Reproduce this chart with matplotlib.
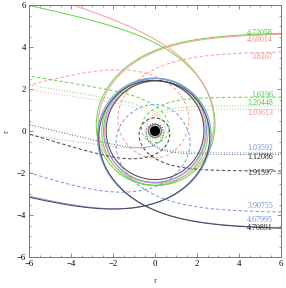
import math
import numpy as np
import matplotlib
matplotlib.use("Agg")
import matplotlib.pyplot as plt
from matplotlib.patches import Circle

# rays coming in from the right above the centre; impact parameter = label
top_b = [4.72058, 4.68014, 3.8107, 1.6196, 1.20448, 1.03613]
top_family = ["green", "pink", "pink", "green", "green", "pink"]
top_style = ["-", "-", "--", "--", ":", ":"]
top_label_y = [4.67, 4.33, 3.52, 1.71, 1.33, 0.86]

# rays coming in from the right below the centre
bot_b = [1.03592, 1.12086, 1.91597, 3.90755, 4.67995, 4.70891]
bot_family = ["blue", "black", "black", "blue", "blue", "black"]
bot_style = [":", ":", "--", "--", "-", "-"]
bot_label_y = [-0.81, -1.24, -2.00, -3.57, -4.24, -4.62]

# one background per family: critical impact parameter, charge term, core value
fam_names = ["green", "pink", "blue", "black"]
fam_bcrit = [4.720476, 4.679756, 4.679822, 4.708268]
fam_q = [0.80, 0.98, 0.90, 1.05]
fam_core = [0.115, 0.115, 0.108, 0.106]

line_col = {"green": "#6ad94e", "pink": "#ff9e9e", "blue": "#7f9be0", "black": "#4a4a55"}
text_col = {"green": "#3fcf2f", "pink": "#f08a8a", "blue": "#6f8fe8", "black": "#222222"}

UJ, WJ = 0.78, 0.03


def pot(u, q, k0):
    s = 1.0 / (1.0 + math.exp(min((u - UJ) / WJ, 700)))
    h = 1.0 - 2.0 * u + q * u * u
    return u * u * (s * h + (1.0 - s) * k0)


def dpot(u, q, k0):
    s = 1.0 / (1.0 + math.exp(min((u - UJ) / WJ, 700)))
    ds = -s * (1.0 - s) / WJ
    h = 1.0 - 2.0 * u + q * u * u
    dh = -2.0 + 2.0 * q * u
    g = s * h + (1.0 - s) * k0
    dg = ds * (h - k0) + s * dh
    return 2.0 * u * g + u * u * dg


def critical(q, k0):
    lo, hi = 0.3, 0.6
    for _ in range(80):
        mid = 0.5 * (lo + hi)
        if dpot(mid, q, k0) > 0:
            lo = mid
        else:
            hi = mid
    return 1.0 / math.sqrt(pot(lo, q, k0))


def trace(b, q, k0, lam):
    # integrate u(phi) for a ray arriving from +x with impact parameter b
    bb = b / lam
    u = lam / 40.0
    u0 = u
    v = math.sqrt(max(1.0 / bb ** 2 - pot(u, q, k0), 0.0))
    phi = math.asin(bb * u)
    h = 0.002
    us, ps = [u], [phi]
    for _ in range(80000):
        k1u, k1v = v, -0.5 * dpot(u, q, k0)
        k2u, k2v = v + 0.5 * h * k1v, -0.5 * dpot(u + 0.5 * h * k1u, q, k0)
        k3u, k3v = v + 0.5 * h * k2v, -0.5 * dpot(u + 0.5 * h * k2u, q, k0)
        k4u, k4v = v + h * k3v, -0.5 * dpot(u + h * k3u, q, k0)
        u += h / 6 * (k1u + 2 * k2u + 2 * k3u + k4u)
        v += h / 6 * (k1v + 2 * k2v + 2 * k3v + k4v)
        phi += h
        if u <= 1e-4:
            break
        us.append(u)
        ps.append(phi)
        if v < 0 and u < u0:
            break
    r = lam / np.array(us)
    ps = np.array(ps)
    return r * np.cos(ps), r * np.sin(ps)


fig = plt.figure(figsize=(2.86, 2.88), dpi=100)
ax = fig.add_axes([29 / 286, 31 / 288, 252 / 286, 252 / 288])

for bs, fams, styles, ly, sign in [(top_b, top_family, top_style, top_label_y, 1),
                                   (bot_b, bot_family, bot_style, bot_label_y, -1)]:
    for b, fam, ls, yl in zip(bs, fams, styles, ly):
        i = fam_names.index(fam)
        q, k0 = fam_q[i], fam_core[i]
        lam = fam_bcrit[i] / critical(q, k0)
        x, y = trace(b, q, k0, lam)
        dash = {"-": "-", "--": (0, (3.2, 2.2)), ":": (0, (0.8, 1.8))}[ls]
        ax.plot(x, sign * y, color=line_col[fam], lw=0.75, ls=dash, zorder=2)
        ax.text(5.62, yl, f"{b:g}", color=text_col[fam], fontsize=5.8,
                family="Liberation Serif", ha="right", va="center", zorder=4)

ax.add_patch(Circle((0, 0), 0.31, fill=False, ec="#777777", lw=1.0, zorder=5))
ax.add_patch(Circle((0, 0), 0.23, fc="black", ec="black", lw=0.5, zorder=6))

ax.set_xlim(-6, 6)
ax.set_ylim(-6, 6)
ticks = [-6, -4, -2, 0, 2, 4, 6]
ax.set_xticks(ticks)
ax.set_yticks(ticks)
ax.set_xticklabels(["\u22126", "\u22124", "\u22122", "0", "2", "4", "6"])
ax.set_yticklabels(["\u22126", "\u22124", "\u22122", "0", "2", "4", "6"])
ax.set_xticks(np.arange(-6, 6.01, 0.5), minor=True)
ax.set_yticks(np.arange(-6, 6.01, 0.5), minor=True)
ax.tick_params(which="both", direction="in", top=True, right=True, color="#777777",
               labelsize=6.3, pad=2)
ax.tick_params(which="major", length=3.2, width=0.6)
ax.tick_params(which="minor", length=1.6, width=0.5)
for lab in ax.get_xticklabels() + ax.get_yticklabels():
    lab.set_family("Liberation Serif")
for s in ax.spines.values():
    s.set_color("#777777")
    s.set_linewidth(0.7)

fig.text(155 / 286, 1 - 281 / 288, "r", family="Liberation Serif", fontsize=6.5,
         color="#555555", ha="center", va="center")
fig.text(7 / 286, 1 - 131 / 288, "r", family="Liberation Serif", fontsize=6.5,
         color="#555555", ha="center", va="center", rotation=90)

fig.savefig("out.png", dpi=100)
